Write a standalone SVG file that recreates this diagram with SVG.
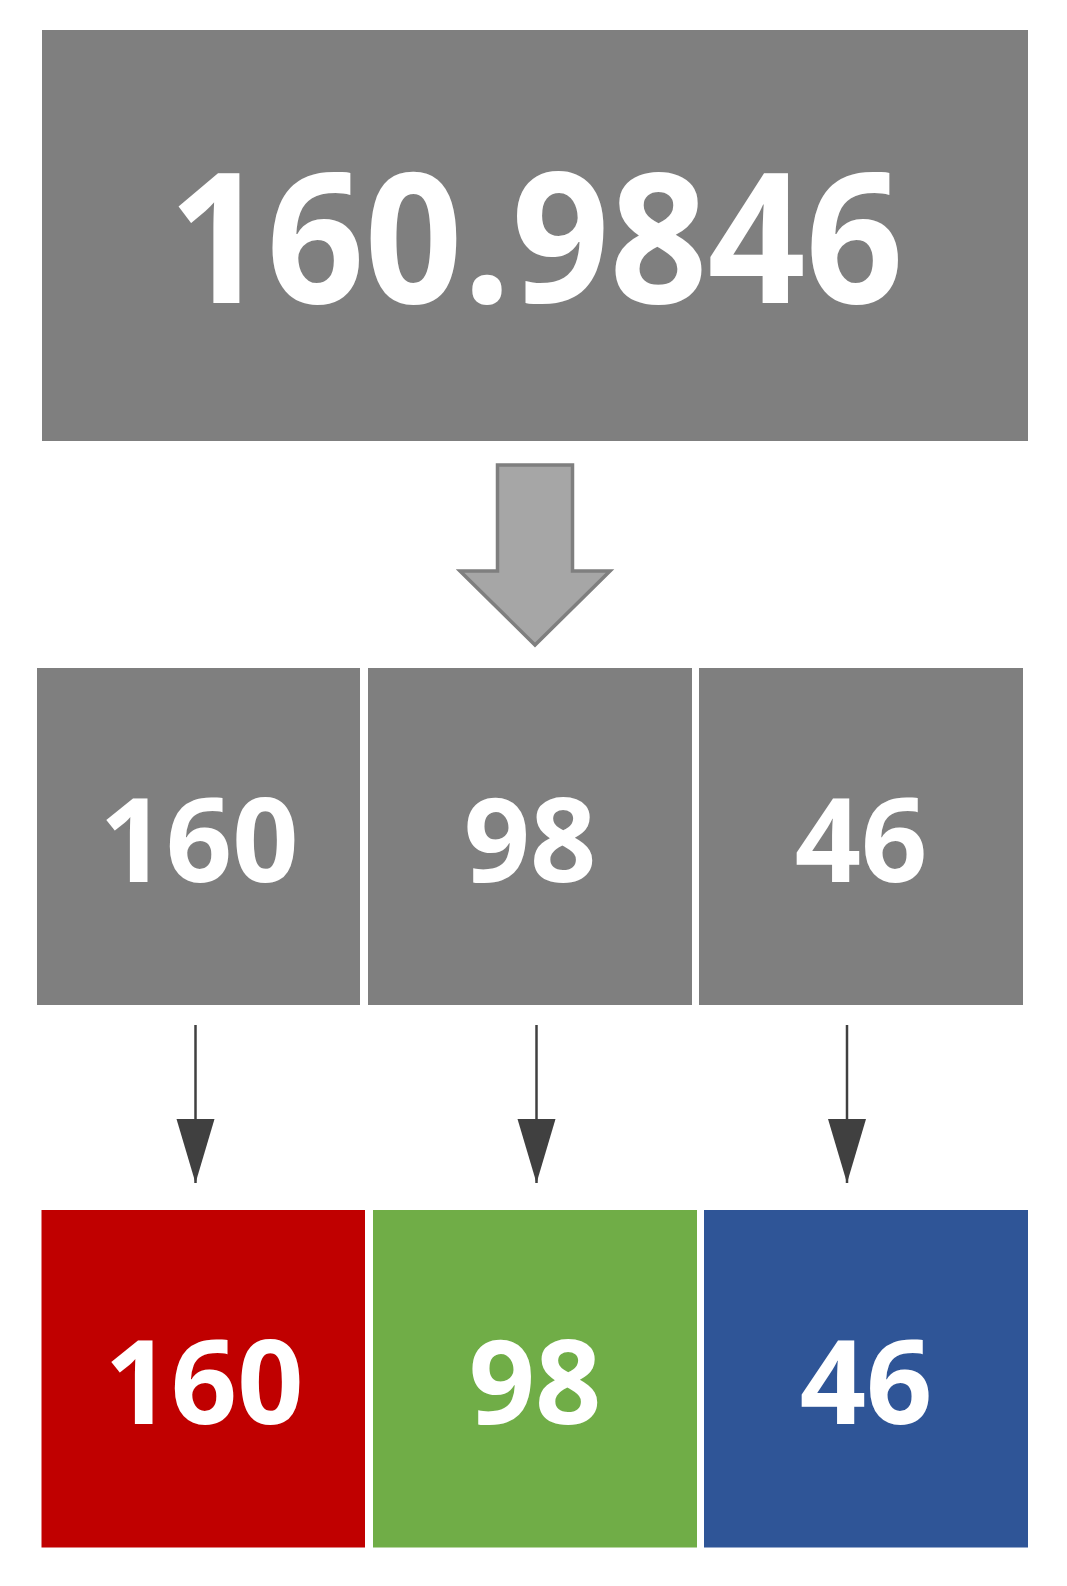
<svg xmlns="http://www.w3.org/2000/svg" width="1067" height="1586" viewBox="0 0 1067 1586">
<style>
.gray{fill:#7f7f7f}
.lbl{font-family:"Open Sans","Liberation Sans",sans-serif;font-weight:700;fill:#ffffff;text-anchor:middle}
.big{font-size:181px}
.mid{font-size:116px}
.conn{stroke:#404040;stroke-width:2.5;fill:none}
</style>
<defs>
<marker id="ah" markerUnits="userSpaceOnUse" markerWidth="66" markerHeight="40" refX="64" refY="19" orient="auto" viewBox="0 0 66 40">
<path d="M0,0 L64,19 L0,38 Z" fill="#404040"/>
</marker>
</defs>
<rect width="1067" height="1586" fill="#ffffff"/>
<g id="top-value">
<rect class="gray" x="42" y="30" width="986" height="411"/>
<text class="lbl big" x="536" y="303" textLength="735" lengthAdjust="spacingAndGlyphs">160.9846</text>
</g>
<g id="split-arrow">
<path d="M497.5,465 L572.5,465 L572.5,571 L610,571 L535,645 L460,571 L497.5,571 Z" fill="#a6a6a6" stroke="#7f7f7f" stroke-width="3.5" stroke-linejoin="miter"/>
</g>
<g id="part-160">
<rect class="gray" x="37" y="668" width="323" height="337"/>
<text class="lbl mid" x="199" y="882">160</text>
</g>
<g id="part-98">
<rect class="gray" x="368" y="668" width="324" height="337"/>
<text class="lbl mid" x="530" y="882">98</text>
</g>
<g id="part-46">
<rect class="gray" x="699" y="668" width="324" height="337"/>
<text class="lbl mid" x="861" y="882">46</text>
</g>
<g id="connectors">
<line class="conn" x1="195.5" y1="1025" x2="195.5" y2="1183" marker-end="url(#ah)"/>
<line class="conn" x1="536.5" y1="1025" x2="536.5" y2="1183" marker-end="url(#ah)"/>
<line class="conn" x1="847" y1="1025" x2="847" y2="1183" marker-end="url(#ah)"/>
</g>
<g id="out-160">
<rect x="41.5" y="1210" width="323.5" height="337.5" fill="#c00000"/>
<text class="lbl mid" x="204" y="1424">160</text>
</g>
<g id="out-98">
<rect x="373" y="1210" width="324" height="337.5" fill="#70ad47"/>
<text class="lbl mid" x="535" y="1424">98</text>
</g>
<g id="out-46">
<rect x="704" y="1210" width="324" height="337.5" fill="#2f5597"/>
<text class="lbl mid" x="866" y="1424">46</text>
</g>
</svg>
